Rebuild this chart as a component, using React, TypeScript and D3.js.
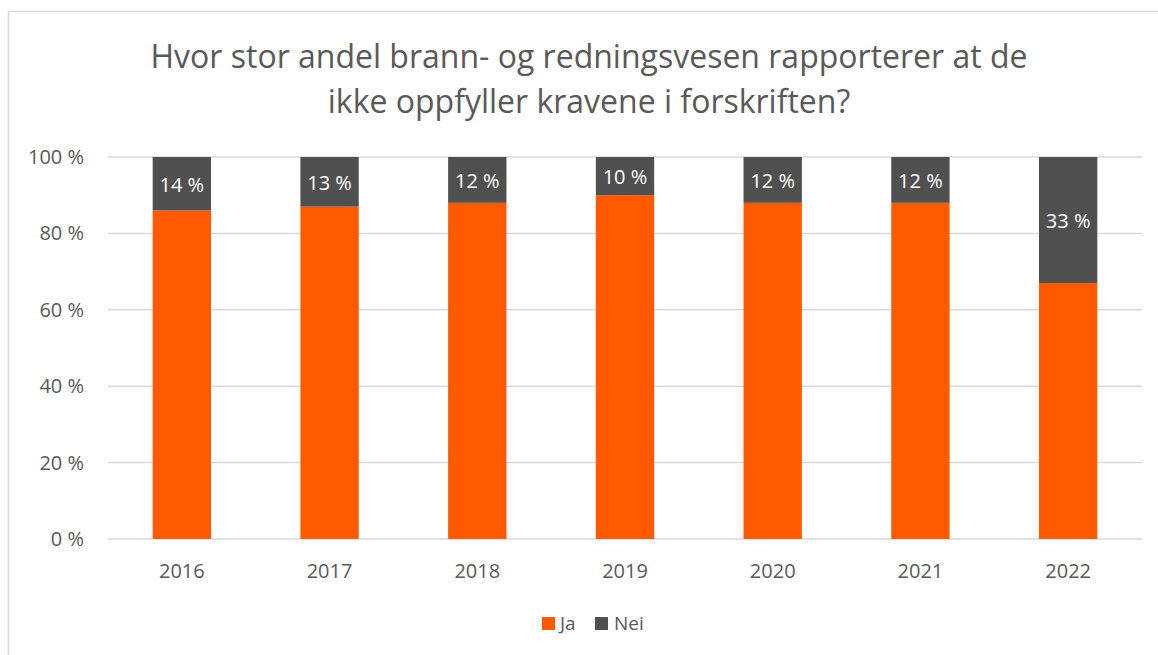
import React from "react";
import * as d3 from "d3";

const years = ["2016", "2017", "2018", "2019", "2020", "2021", "2022"];
const ja = [86, 87, 88, 90, 88, 88, 67];
const nei = [14, 13, 12, 10, 12, 12, 33];
const yTicks = [0, 20, 40, 60, 80, 100];
const titleLines = [
  "Hvor stor andel brann- og redningsvesen rapporterer at de",
  "ikke oppfyller kravene i forskriften?",
];
const seriesNames = ["Ja", "Nei"];
const colors = ["#FF5A00", "#505050"];

export default function App() {
  const W = 1158, H = 655;
  const left = 108, right = 1142, top = 157, bottom = 539;
  const font = "'Open Sans', sans-serif";
  const x = d3.scaleBand<string>().domain(years).range([left, right]).paddingInner(0.605).paddingOuter(0.3025);
  const y = d3.scaleLinear().domain([0, 100]).range([bottom, top]);
  const stacked = years.map((yr, i) => ({ yr, ja: ja[i], nei: nei[i] }));
  const stack = d3.stack<any>().keys(["ja", "nei"])(stacked);

  return (
    <svg width={W} height={H} style={{ position: "absolute", left: 0, top: 0 }} fontFamily={font}>
      <rect x={0} y={0} width={W} height={H} fill="#fff" />
      <rect x={8.5} y={11.5} width={1200} height={700} fill="#fff" stroke="#d9d9d9" strokeWidth={1.5} />
      {titleLines.map((t, i) => (
        <text key={i} x={589} y={68 + i * 45} textAnchor="middle" fontSize={32} fill="#595959">{t}</text>
      ))}
      {yTicks.map((t) => (
        <g key={t}>
          <line x1={left} x2={right} y1={y(t)} y2={y(t)} stroke="#d9d9d9" strokeWidth={1.5} />
          <text x={84} y={y(t) + 7} textAnchor="end" fontSize={20} fill="#595959">{`${t} %`}</text>
        </g>
      ))}
      {stack.map((s, si) => (
        <g key={si}>
          {s.map((d: any, i: number) => (
            <rect key={i} x={x(years[i])} width={x.bandwidth()} y={y(d[1])} height={y(d[0]) - y(d[1])} fill={colors[si]} />
          ))}
        </g>
      ))}
      {stack[1].map((d: any, i: number) => (
        <text key={i} x={(x(years[i]) as number) + x.bandwidth() / 2} y={(y(d[0]) + y(d[1])) / 2 + 8}
          textAnchor="middle" fontSize={20} fill="#fff">{`${nei[i]} %`}</text>
      ))}
      {years.map((yr) => (
        <text key={yr} x={(x(yr) as number) + x.bandwidth() / 2} y={578} textAnchor="middle" fontSize={20} fill="#595959">{yr}</text>
      ))}
      <g>
        <rect x={542} y={617} width={13} height={13} fill={colors[0]} />
        <text x={560} y={630} fontSize={19} fill="#595959">{seriesNames[0]}</text>
        <rect x={595} y={617} width={13} height={13} fill={colors[1]} />
        <text x={614} y={630} fontSize={19} fill="#595959">{seriesNames[1]}</text>
      </g>
    </svg>
  );
}
